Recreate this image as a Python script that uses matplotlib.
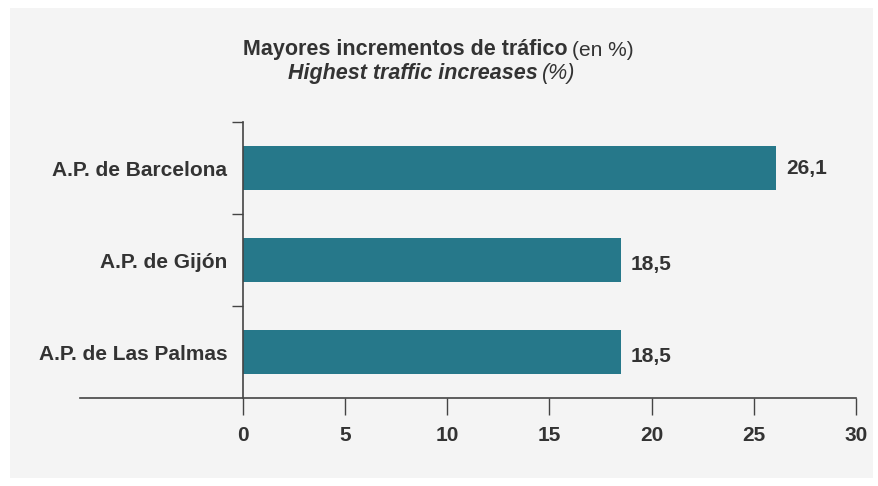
import matplotlib
matplotlib.use("Agg")
import matplotlib.pyplot as plt
from matplotlib.patches import Rectangle

ports = ["A.P. de Barcelona", "A.P. de Gijón", "A.P. de Las Palmas"]
increases = [26.1, 18.5, 18.5]
labels = ["26,1", "18,5", "18,5"]
xticks = [0, 5, 10, 15, 20, 25, 30]

bar_color = "#26788a"
text_color = "#333333"
panel_color = "#f4f4f4"

plt.rcParams["font.family"] = ["Liberation Sans", "DejaVu Sans"]

fig = plt.figure(figsize=(8.79, 4.86), dpi=100)
fig.patch.set_facecolor("white")
# grey panel behind the chart
fig.patches.append(Rectangle((10 / 879, 1 - 478 / 486), 863 / 879, 470 / 486,
                             transform=fig.transFigure, facecolor=panel_color,
                             edgecolor="none", zorder=-5))

ax = fig.add_axes([80 / 879, 1 - 398 / 486, 776 / 879, 276 / 486])
ax.set_facecolor("none")

y = list(range(len(ports)))
ax.barh(y, increases, height=0.48, color=bar_color, zorder=2)
ax.set_xlim(-7.95, 30)
ax.set_ylim(len(ports) - 0.5, -0.5)

for yi, v, lab in zip(y, increases, labels):
    dy = 0.05 if v < 20 else 0.0
    ax.text(v + 0.5, yi + dy, lab, va="center", ha="left", fontsize=15,
            fontweight="bold", color=text_color)

# spines
for s in ["top", "right"]:
    ax.spines[s].set_visible(False)
ax.spines["left"].set_position(("data", 0))
ax.spines["left"].set_color("#444444")
ax.spines["bottom"].set_color("#444444")
ax.spines["left"].set_linewidth(1.2)
ax.spines["bottom"].set_linewidth(1.2)

ax.set_xticks(xticks)
ax.set_xticklabels([str(t) for t in xticks], fontsize=15, fontweight="bold",
                   color=text_color)
ax.tick_params(axis="x", length=12, width=1, color="#444444", pad=8)

# y ticks at the category boundaries, labels centred on bars
ax.set_yticks([-0.5, 0.5, 1.5])
ax.set_yticklabels([])
ax.tick_params(axis="y", length=8, width=1, color="#444444")
ax.set_yticks(y, minor=True)
ax.set_yticklabels(ports, minor=True, fontsize=15, fontweight="bold",
                   color=text_color)
ax.tick_params(axis="y", which="minor", length=0, pad=11)

# title, mixed weights
split1 = 568 / 879
fig.text(split1, 1 - 50 / 486, "Mayores incrementos de tráfico", ha="right",
         va="center", fontsize=15.5, fontweight="bold", color=text_color)
fig.text(split1 + 4 / 879, 1 - 50 / 486, "(en %)", ha="left", va="center",
         fontsize=15, color=text_color)
split2 = 538 / 879
fig.text(split2, 1 - 73 / 486, "Highest traffic increases", ha="right",
         va="center", fontsize=15.5, fontweight="bold", style="italic",
         color=text_color)
fig.text(split2 + 4 / 879, 1 - 73 / 486, "(%)", ha="left", va="center",
         fontsize=15.5, style="italic", color=text_color)

fig.savefig("out.png", dpi=100, facecolor=fig.get_facecolor())
